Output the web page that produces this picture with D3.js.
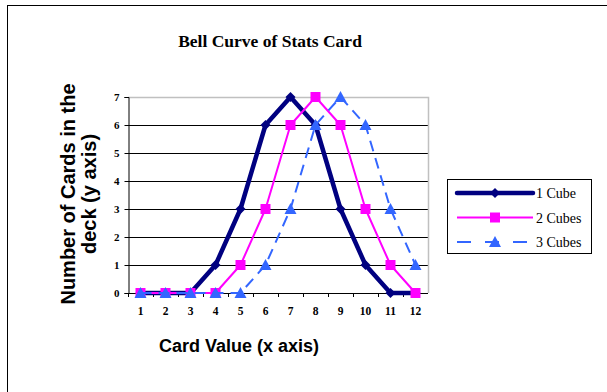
<!DOCTYPE html>
<html>
<head>
<meta charset="utf-8">
<script src="https://cdn.jsdelivr.net/npm/d3@7"></script>
<style>
  body { margin: 0; background: #fff; }
</style>
</head>
<body>
<div id="chart-container"></div>
<script>
// Data
const cardValues = [1, 2, 3, 4, 5, 6, 7, 8, 9, 10, 11, 12];
const oneCube = [0, 0, 0, 1, 3, 6, 7, 6, 3, 1, 0, 0];
const twoCubes = [0, 0, 0, 0, 1, 3, 6, 7, 6, 3, 1, 0];
const threeCubes = [0, 0, 0, 0, 0, 1, 3, 6, 7, 6, 3, 1];
const seriesNames = ["1 Cube", "2 Cubes", "3 Cubes"];
const yTicks = [0, 1, 2, 3, 4, 5, 6, 7];

const series = [
    { name: seriesNames[0], values: oneCube, color: "#000080", width: 4.5, dash: null, marker: "diamond" },
    { name: seriesNames[1], values: twoCubes, color: "#ff00ff", width: 2, dash: null, marker: "square" },
    { name: seriesNames[2], values: threeCubes, color: "#3366ff", width: 2, dash: "11,7", marker: "triangle" }
];

const W = 607, H = 392;
const plot = { left: 128, right: 428, top: 97, bottom: 293 };

const svg = d3.select("#chart-container")
    .append("svg")
    .attr("width", W)
    .attr("height", H)
    .style("font-family", "'Liberation Serif', 'Times New Roman', serif");

// Khung ngoài
svg.append("rect")
    .attr("x", 7.5).attr("y", 5.5)
    .attr("width", W).attr("height", H)
    .attr("fill", "#fff")
    .attr("stroke", "#000")
    .attr("stroke-width", 1);

const xScale = d3.scaleBand()
    .domain(cardValues)
    .range([plot.left, plot.right]);

const yScale = d3.scaleLinear()
    .domain([0, 7])
    .range([plot.bottom, plot.top]);

// Grid lines
svg.append("g")
    .selectAll("line")
    .data(yTicks.filter((d) => d > 0 && d < 7))
    .enter()
    .append("line")
    .attr("x1", plot.left).attr("x2", plot.right)
    .attr("y1", (d) => Math.round(yScale(d)) + 0.5)
    .attr("y2", (d) => Math.round(yScale(d)) + 0.5)
    .attr("stroke", "#000");

// Viền khung vẽ (trên, phải màu xám)
svg.append("path")
    .attr("d", `M${plot.left},${plot.top + 0.5}H${plot.right + 0.5}V${plot.bottom}`)
    .attr("fill", "none")
    .attr("stroke", "#c0c0c0")
    .attr("stroke-width", 1.5);

// Trục y
const yAxis = svg.append("g")
    .attr("transform", `translate(${plot.left + 0.5},0)`)
    .call(d3.axisLeft(yScale).tickValues(yTicks).tickSize(4).tickPadding(5).tickFormat(d3.format("d")));
yAxis.select(".domain").attr("stroke", "#000");
yAxis.selectAll("text")
    .style("font-family", "'Liberation Serif', serif")
    .style("font-weight", "bold")
    .style("font-size", "11px")
    .attr("fill", "#000");

// Trục x
const xAxis = svg.append("g")
    .attr("transform", `translate(0,${plot.bottom + 0.5})`)
    .call(d3.axisBottom(xScale).tickSize(0).tickPadding(13));
xAxis.select(".domain").attr("stroke", "#000").attr("d", `M${plot.left},0H${plot.right}`);
xAxis.selectAll("text")
    .style("font-family", "'Liberation Serif', serif")
    .style("font-weight", "bold")
    .style("font-size", "11.5px")
    .attr("fill", "#000");
// vạch chia giữa các nhóm
svg.append("g")
    .selectAll("line")
    .data(cardValues)
    .enter()
    .append("line")
    .attr("x1", (d) => xScale(d) + 0.5)
    .attr("x2", (d) => xScale(d) + 0.5)
    .attr("y1", plot.bottom)
    .attr("y2", plot.bottom + 4)
    .attr("stroke", "#000");

const markerPath = (type, size) => {
    const s = size / 2;
    if (type === "diamond") return `M0,${-s}L${s},0L0,${s}L${-s},0Z`;
    if (type === "square") return `M${-s},${-s}H${s}V${s}H${-s}Z`;
    return `M0,${-s - 1}L${s + 1},${s}H${-s - 1}Z`;
};

const line = d3.line()
    .x((d, i) => xScale(cardValues[i]) + xScale.bandwidth() / 2)
    .y((d) => yScale(d));

series.forEach((s) => {
    svg.append("path")
        .datum(s.values)
        .attr("d", line)
        .attr("fill", "none")
        .attr("stroke", s.color)
        .attr("stroke-width", s.width)
        .attr("stroke-dasharray", s.dash)
        .attr("stroke-linejoin", "round");

    svg.append("g")
        .selectAll("path")
        .data(s.values)
        .enter()
        .append("path")
        .attr("transform", (d, i) => `translate(${xScale(cardValues[i]) + xScale.bandwidth() / 2},${yScale(d)})`)
        .attr("d", markerPath(s.marker, 10))
        .attr("fill", s.color);
});

// Tiêu đề
svg.append("text")
    .attr("x", 270)
    .attr("y", 47)
    .attr("text-anchor", "middle")
    .style("font-size", "17.5px")
    .style("font-weight", "bold")
    .text("Bell Curve of Stats Card");

// Nhãn trục x
svg.append("text")
    .attr("x", 239)
    .attr("y", 352)
    .attr("text-anchor", "middle")
    .style("font-family", "'Liberation Sans', Arial, sans-serif")
    .style("font-size", "18px")
    .style("font-weight", "bold")
    .text("Card Value (x axis)");

// Nhãn trục y (2 dòng)
const yLabel = svg.append("text")
    .attr("transform", "translate(0,194) rotate(-90)")
    .attr("text-anchor", "middle")
    .style("font-family", "'Liberation Sans', Arial, sans-serif")
    .style("font-size", "20px")
    .style("font-weight", "bold");
yLabel.append("tspan").attr("x", 0).attr("y", 75).text("Number of Cards in the");
yLabel.append("tspan").attr("x", 0).attr("y", 96).text("deck (y axis)");

// Chú giải
const legend = svg.append("g");
legend.append("rect")
    .attr("x", 447.5).attr("y", 179.5)
    .attr("width", 144).attr("height", 74)
    .attr("fill", "#fff")
    .attr("stroke", "#000");

series.forEach((s, i) => {
    const ly = 193 + i * 24.5;
    legend.append("line")
        .attr("x1", 457).attr("x2", 533)
        .attr("y1", ly).attr("y2", ly)
        .attr("stroke", s.color)
        .attr("stroke-width", s.width)
        .attr("stroke-dasharray", s.dash ? "14,14" : null)
        .attr("stroke-linecap", s.width > 2 ? "round" : "butt");
    legend.append("path")
        .attr("transform", `translate(495,${ly})`)
        .attr("d", markerPath(s.marker, 10))
        .attr("fill", s.color);
    legend.append("text")
        .attr("x", 536)
        .attr("y", ly + 5)
        .style("font-size", "14px")
        .text(s.name);
});
</script>
</body>
</html>
